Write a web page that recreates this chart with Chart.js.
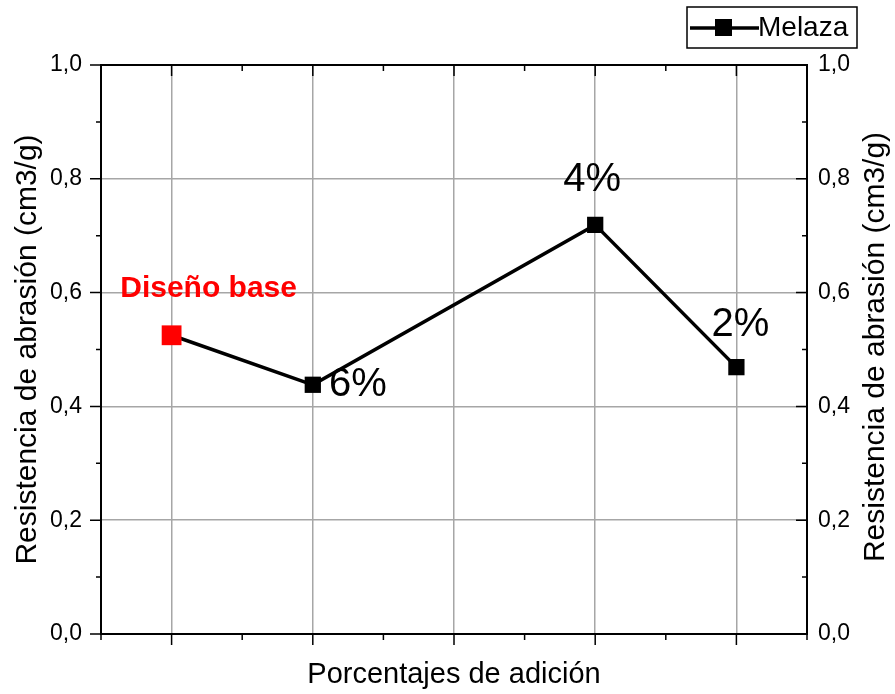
<!DOCTYPE html>
<html>
<head>
<meta charset="utf-8">
<script src="https://cdn.jsdelivr.net/npm/chart.js@4.4.1/dist/chart.umd.min.js"></script>
<style>
 body { margin: 0; background: #fff; }
 #wrap { width: 895px; height: 694px; }
</style>
</head>
<body>
<div id="wrap"><canvas id="myChart"></canvas></div>
<script>
// data
var xPositions = [1, 2, 4, 5];
var resistencia = [0.525, 0.438, 0.719, 0.469];
var pointLabels = ['Diseño base', '6%', '4%', '2%'];
var yTickLabels = ['0,0', '0,2', '0,4', '0,6', '0,8', '1,0'];

var FONT = '"Liberation Sans", Arial, sans-serif';
var GRID = '#a6a6a6';

// label offsets from each point (px) and their look
var labelStyle = [
  { dx: 37, dy: -47, color: '#ff0000', font: 'bold 30px ' + FONT },
  { dx: 45, dy: 0, color: '#000', font: '40px ' + FONT },
  { dx: -3, dy: -45, color: '#000', font: '40px ' + FONT },
  { dx: 4, dy: -42, color: '#000', font: '40px ' + FONT }
];

function yLabel(v) {
  var k = Math.round(v * 10);
  if (k % 2 !== 0) return '';
  return yTickLabels[k / 2];
}

var extras = {
  id: 'extras',
  afterDatasetsDraw: function (chart) {
    var ctx = chart.ctx;
    var meta = chart.getDatasetMeta(0);
    ctx.save();
    ctx.textAlign = 'center';
    ctx.textBaseline = 'middle';
    meta.data.forEach(function (pt, i) {
      var s = labelStyle[i];
      ctx.fillStyle = s.color;
      ctx.font = s.font;
      ctx.fillText(pointLabels[i], pt.x + s.dx, pt.y + s.dy);
    });
    ctx.restore();
  },
  afterDraw: function (chart) {
    var ctx = chart.ctx;
    var a = chart.chartArea;
    var xs = chart.scales.x, ys = chart.scales.y;
    ctx.save();
    ctx.strokeStyle = '#000';
    ctx.lineWidth = 2;
    ctx.strokeRect(a.left, a.top, a.right - a.left, a.bottom - a.top);

    // major / minor ticks: out on left and bottom, in on right and top
    ctx.lineWidth = 1.5;
    ctx.beginPath();
    for (var i = 1; i <= 11; i++) {
      var px = xs.getPixelForValue(i * 0.5);
      var len = (i % 2 === 0) ? 11 : 6;
      ctx.moveTo(px, a.bottom);
      ctx.lineTo(px, a.bottom + len);
      ctx.moveTo(px, a.top);
      ctx.lineTo(px, a.top + len);
    }
    for (var k = 0; k <= 10; k++) {
      var py = ys.getPixelForValue(k / 10);
      var l = (k % 2 === 0) ? 11 : 5;
      ctx.moveTo(a.left, py);
      ctx.lineTo(a.left - l, py);
      ctx.moveTo(a.right, py);
      ctx.lineTo(a.right - l, py);
    }
    ctx.stroke();

    // right axis title, reading bottom to top like the left one
    ctx.translate(876, 347);
    ctx.rotate(-Math.PI / 2);
    ctx.fillStyle = '#000';
    ctx.font = '30px ' + FONT;
    ctx.textAlign = 'center';
    ctx.textBaseline = 'middle';
    ctx.fillText('Resistencia de abrasión (cm3/g)', 0, 0);
    ctx.restore();

    // legend box
    ctx.save();
    ctx.strokeStyle = '#000';
    ctx.lineWidth = 1.5;
    ctx.strokeRect(687, 7, 170, 41);
    ctx.lineWidth = 3.5;
    ctx.beginPath();
    ctx.moveTo(690, 28);
    ctx.lineTo(759, 28);
    ctx.stroke();
    ctx.fillStyle = '#000';
    ctx.fillRect(715, 19, 17, 17);
    ctx.font = '28px ' + FONT;
    ctx.textBaseline = 'middle';
    ctx.fillText(chart.data.datasets[0].label, 758, 28);
    ctx.restore();
  }
};

var ctx = document.getElementById('myChart').getContext('2d');
var chart = new Chart(ctx, {
  type: 'line',
  data: {
    datasets: [{
      label: 'Melaza',
      data: xPositions.map(function (x, i) { return { x: x, y: resistencia[i] }; }),
      borderColor: '#000',
      borderWidth: 3.5,
      pointStyle: 'rect',
      pointRadius: [14, 11.5, 11.5, 11.5],
      pointBackgroundColor: ['#ff0000', '#000', '#000', '#000'],
      pointBorderWidth: 0,
      tension: 0
    }]
  },
  options: {
    responsive: true,
    maintainAspectRatio: false,
    animation: false,
    layout: { padding: { top: 65, left: 0, right: 0, bottom: 0 } },
    plugins: { legend: { display: false }, tooltip: { enabled: false } },
    scales: {
      x: {
        type: 'linear',
        min: 0.5, max: 5.5,
        afterFit: function (s) { s.height = 60; },
        ticks: { stepSize: 0.5, callback: function () { return ''; } },
        grid: {
          drawTicks: false,
          lineWidth: 1.5,
          color: function (c) {
            var v = c.tick ? c.tick.value : 0;
            return Math.abs(v - Math.round(v)) < 1e-6 ? GRID : 'rgba(0,0,0,0)';
          }
        },
        border: { display: false },
        title: {
          display: true,
          text: 'Porcentajes de adición',
          color: '#000',
          font: { family: FONT, size: 29 },
          padding: { top: 0, bottom: 2 }
        }
      },
      y: {
        position: 'left',
        min: 0, max: 1,
        afterFit: function (s) { s.width = 101; },
        ticks: {
          stepSize: 0.1,
          autoSkip: false,
          padding: 19,
          color: '#000',
          font: { family: FONT, size: 23 },
          callback: yLabel
        },
        grid: {
          drawTicks: false,
          lineWidth: 1.5,
          color: function (c) {
            var k = Math.round((c.tick ? c.tick.value : 0) * 10);
            return (k % 2 === 0 && k > 0 && k < 10) ? GRID : 'rgba(0,0,0,0)';
          }
        },
        border: { display: false },
        title: {
          display: true,
          text: 'Resistencia de abrasión (cm3/g)',
          color: '#000',
          font: { family: FONT, size: 30 },
          padding: { top: 10, bottom: 0 }
        }
      },
      y2: {
        position: 'right',
        min: 0, max: 1,
        afterFit: function (s) { s.width = 88; },
        ticks: {
          stepSize: 0.1,
          autoSkip: false,
          padding: 11,
          color: '#000',
          font: { family: FONT, size: 23 },
          callback: yLabel
        },
        grid: { display: false, drawTicks: false },
        border: { display: false }
      }
    }
  },
  plugins: [extras]
});
</script>
</body>
</html>
